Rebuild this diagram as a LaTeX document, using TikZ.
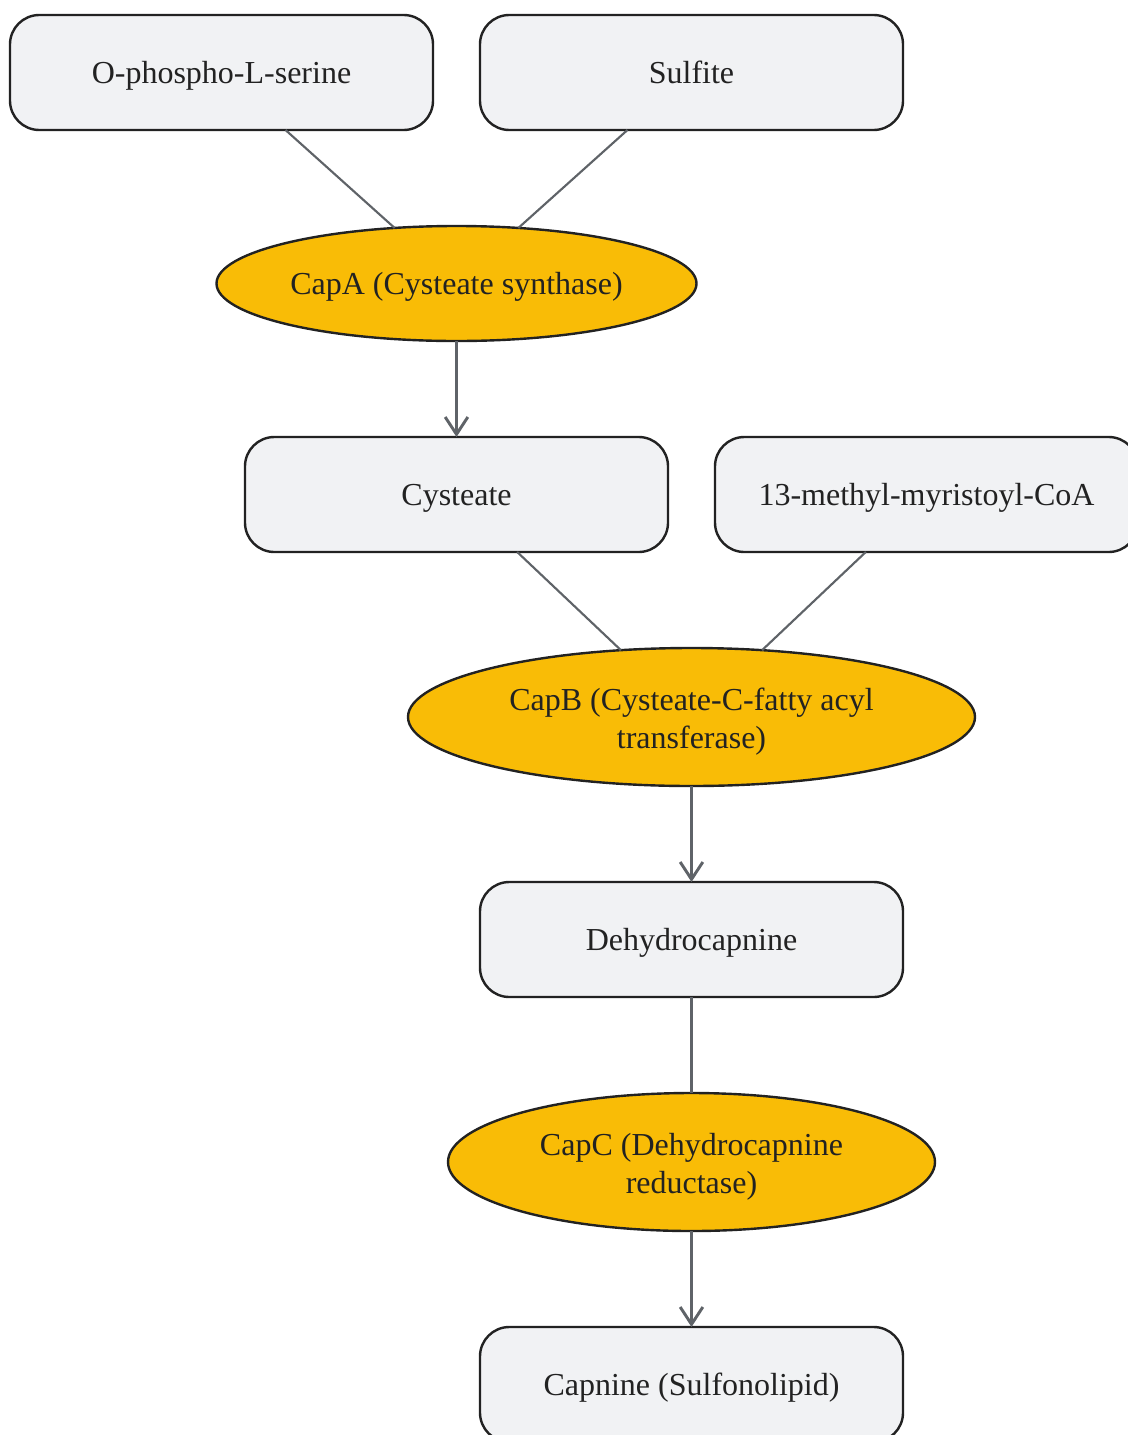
\documentclass[tikz,border=0pt]{standalone}
\usepackage{fontspec}
\setmainfont{Liberation Serif}
\usetikzlibrary{
	arrows.meta,shapes.geometric,positioning,calc
}
\definecolor{boxfill}{HTML}{F1F2F4}
\definecolor{rimcolor}{HTML}{222222}
\definecolor{enzymefill}{HTML}{F9BC06}
\definecolor{linkgray}{HTML}{5F6368}
\tikzset{
	metabolite/.style={
		rectangle, minimum width=317.25pt, minimum height=86.25pt, rounded corners=22pt,
		text height=20pt, text depth=3.5pt,
		line width=1.8pt, draw=rimcolor, fill=boxfill, text=rimcolor, outer sep=0pt
	},
	%
	enzyme/.style={
		ellipse, minimum height=86.25pt, inner sep=0pt, outer sep=0pt, align=center,
		text height=20pt, text depth=3.5pt,
		line width=1.8pt, draw=rimcolor, fill=enzymefill, text=rimcolor
	},
	%
	twolines/.style={
		minimum height=103.5pt, text height=51pt
	},
	%
	link/.style={
		line width=1.6pt, draw=linkgray
	},
	%
	reaction/.style={
		link, -{Straight Barb[length=13pt,width=17pt,line width=2.2pt]}
	}
}
\begin{document}
\begin{tikzpicture}[x=0.75pt, y=-0.75pt, node distance=72pt and 35.25pt, font=\fontsize{24}{28.5}\selectfont]
    \useasboundingbox (0,0) rectangle (1128,1435);
    \node(OPS)[metabolite] at (221.5,72.5){O-phospho-L-serine};
    \node(Sulf)[metabolite, right=of OPS]{Sulfite};
    \coordinate(OPStoSulf) at ($(OPS.south)!0.5!(Sulf.south)$);
    \node(CapA)[enzyme, minimum width=360pt, below=of OPStoSulf]{CapA (Cysteate synthase)};
    \draw[link] (OPS) -- (CapA);
    \draw[link] (Sulf) -- (CapA);
    \node(Cys)[metabolite, below=of CapA]{Cysteate};
    \draw[reaction] (CapA) -- (Cys);
    \node(MMCoA)[metabolite, right=of Cys]{13-methyl-myristoyl-CoA};
    \coordinate(CystoMMCoA) at ($(Cys.south)!0.5!(MMCoA.south)$);
    \node(CapB)[enzyme, twolines, minimum width=425.25pt, below=of CystoMMCoA]{CapB (Cysteate-C-fatty acyl\\transferase)};
    \draw[link] (Cys) -- (CapB);
    \draw[link] (MMCoA) -- (CapB);
    \node(Dhc)[metabolite, below=of CapB]{Dehydrocapnine};
    \draw[reaction] (CapB) -- (Dhc);
    \node(CapC)[enzyme, twolines, minimum width=365.25pt, below=of Dhc]{CapC (Dehydrocapnine\\reductase)};
    \draw[link] (Dhc) -- (CapC);
    \node(Cap)[metabolite, below=of CapC]{Capnine (Sulfonolipid)};
    \draw[reaction] (CapC) -- (Cap);
\end{tikzpicture}
\end{document}
